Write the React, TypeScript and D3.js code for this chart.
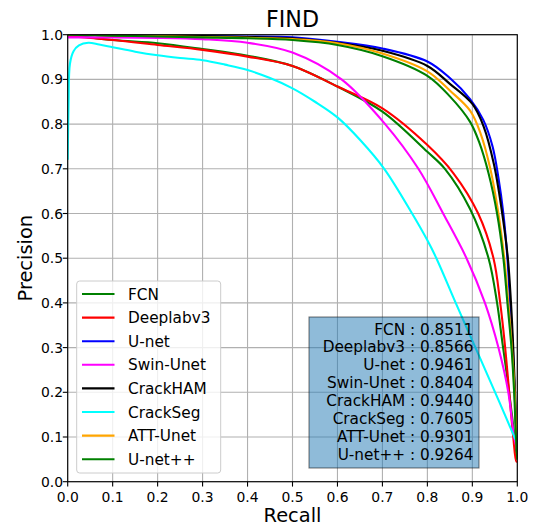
import React from "react";
import * as d3 from "d3";

const seriesNames = ["FCN", "Deeplabv3", "U-net", "Swin-Unet", "CrackHAM", "CrackSeg", "ATT-Unet", "U-net++"];
const seriesColors = ["#008000", "#ff0000", "#0000ff", "#ff00ff", "#000000", "#00ffff", "#ffa500", "#008000"];
const apScores = ["0.8511", "0.8566", "0.9461", "0.8404", "0.9440", "0.7605", "0.9301", "0.9264"];

const xTicks = [0, 0.1, 0.2, 0.3, 0.4, 0.5, 0.6, 0.7, 0.8, 0.9, 1.0];
const yTicks = [0, 0.1, 0.2, 0.3, 0.4, 0.5, 0.6, 0.7, 0.8, 0.9, 1.0];

type Pt = [number, number];

const fcn: Pt[] = [
  [0, 1.0], [0.1, 0.988], [0.2, 0.981], [0.3, 0.968], [0.4, 0.953], [0.5, 0.93],
  [0.6, 0.884], [0.7, 0.828], [0.8, 0.738], [0.839, 0.7], [0.895, 0.61], [0.936, 0.5],
  [0.955, 0.4], [0.967, 0.31], [0.978, 0.23], [0.988, 0.15], [0.995, 0.09], [1.0, 0.05],
];
const deeplab: Pt[] = [
  [0, 0.997], [0.1, 0.988], [0.2, 0.977], [0.3, 0.966], [0.4, 0.951], [0.5, 0.93],
  [0.6, 0.884], [0.7, 0.835], [0.8, 0.753], [0.858, 0.69], [0.913, 0.6],
  [0.947, 0.5], [0.962, 0.4], [0.972, 0.31], [0.982, 0.2], [0.991, 0.1], [0.998, 0.045], [1.0, 0.046],
];
const unet: Pt[] = [
  [0, 1.0], [0.1, 0.999], [0.2, 0.998], [0.3, 0.997], [0.4, 0.996], [0.5, 0.994], [0.6, 0.984],
  [0.7, 0.969], [0.8, 0.94], [0.85, 0.903], [0.895, 0.856], [0.924, 0.81], [0.945, 0.75],
  [0.958, 0.68], [0.969, 0.6], [0.978, 0.5], [0.984, 0.4], [0.99, 0.3], [0.994, 0.2], [0.998, 0.1], [1.0, 0.05],
];
const swin: Pt[] = [
  [0, 0.994], [0.1, 0.994], [0.2, 0.993], [0.3, 0.99], [0.4, 0.982], [0.5, 0.96],
  [0.609, 0.9], [0.706, 0.8], [0.78, 0.7], [0.835, 0.6], [0.887, 0.5], [0.928, 0.4],
  [0.958, 0.3], [0.98, 0.2], [0.993, 0.1], [1.0, 0.07],
];
const crackham: Pt[] = [
  [0, 1.0], [0.1, 0.999], [0.2, 0.998], [0.3, 0.997], [0.4, 0.995], [0.5, 0.992], [0.6, 0.982],
  [0.7, 0.964], [0.8, 0.93], [0.85, 0.89], [0.9, 0.845], [0.925, 0.795], [0.948, 0.71],
  [0.965, 0.61], [0.979, 0.5], [0.986, 0.4], [0.991, 0.3], [0.995, 0.2], [0.998, 0.1], [1.0, 0.05],
];
const crackseg: Pt[] = [
  [0, 0.72], [0.002, 0.85], [0.005, 0.935], [0.013, 0.963], [0.025, 0.976], [0.046, 0.982],
  [0.07, 0.978], [0.1, 0.972], [0.15, 0.962], [0.2, 0.954], [0.25, 0.948], [0.3, 0.943],
  [0.35, 0.933], [0.4, 0.921], [0.45, 0.903], [0.5, 0.88], [0.55, 0.85], [0.6, 0.815],
  [0.65, 0.765], [0.704, 0.7], [0.766, 0.6], [0.8, 0.54], [0.82, 0.5], [0.863, 0.4],
  [0.917, 0.277], [0.958, 0.183], [1.0, 0.085],
];
const attunet: Pt[] = [
  [0, 1.0], [0.1, 0.999], [0.2, 0.997], [0.3, 0.995], [0.4, 0.993], [0.5, 0.99], [0.6, 0.981],
  [0.7, 0.958], [0.8, 0.918], [0.85, 0.875], [0.895, 0.83], [0.918, 0.78], [0.94, 0.7],
  [0.958, 0.6], [0.971, 0.5], [0.98, 0.4], [0.988, 0.3], [0.994, 0.2], [0.998, 0.1], [1.0, 0.05],
];
const unetpp: Pt[] = [
  [0, 1.0], [0.1, 0.998], [0.2, 0.996], [0.3, 0.994], [0.4, 0.992], [0.5, 0.988], [0.6, 0.977],
  [0.7, 0.952], [0.8, 0.908], [0.85, 0.862], [0.895, 0.805], [0.915, 0.76], [0.936, 0.69],
  [0.955, 0.6], [0.969, 0.5], [0.978, 0.4], [0.987, 0.3], [0.993, 0.2], [0.997, 0.1], [1.0, 0.05],
];

const seriesData: Pt[][] = [fcn, deeplab, unet, swin, crackham, crackseg, attunet, unetpp];

const W = 535;
const H = 527;
const X0 = 67.7;
const X1 = 517.3;
const Y0 = 34.7;
const Y1 = 481.7;
const FONT = "DejaVu Sans, Verdana, sans-serif";

export default function App() {
  const x = d3.scaleLinear().domain([0, 1]).range([X0, X1]);
  const y = d3.scaleLinear().domain([0, 1]).range([Y1, Y0]);
  const line = d3
    .line<Pt>()
    .x((d) => x(d[0]))
    .y((d) => y(d[1]))
    .curve(d3.curveCatmullRom.alpha(0.5));

  const legX = 76.7, legY = 281, legW = 144, legH = 192;
  const boxX = 309, boxY = 317, boxW = 170, boxH = 151;

  return (
    <svg
      width={W}
      height={H}
      style={{ position: "absolute", left: 0, top: 0, background: "#fff" }}
      fontFamily={FONT}
    >
      <defs>
        <clipPath id="plotclip">
          <rect x={X0} y={Y0} width={X1 - X0} height={Y1 - Y0} />
        </clipPath>
      </defs>
      <rect x={0} y={0} width={W} height={H} fill="#fff" />
      {xTicks.map((t) => (
        <line key={"gx" + t} x1={x(t)} x2={x(t)} y1={Y0} y2={Y1} stroke="#b0b0b0" strokeWidth={1.1} />
      ))}
      {yTicks.map((t) => (
        <line key={"gy" + t} x1={X0} x2={X1} y1={y(t)} y2={y(t)} stroke="#b0b0b0" strokeWidth={1.1} />
      ))}
      <g clipPath="url(#plotclip)">
        {seriesData.map((d, i) => (
          <path
            key={seriesNames[i]}
            d={line(d) || ""}
            fill="none"
            stroke={seriesColors[i]}
            strokeWidth={2.1}
            strokeLinejoin="round"
            strokeLinecap="butt"
          />
        ))}
      </g>
      <rect x={X0} y={Y0} width={X1 - X0} height={Y1 - Y0} fill="none" stroke="#000" strokeWidth={1.1} />
      {xTicks.map((t) => (
        <g key={"tx" + t}>
          <line x1={x(t)} x2={x(t)} y1={Y1} y2={Y1 + 4.9} stroke="#000" strokeWidth={1.1} />
          <text x={x(t)} y={502} fontSize={13.9} textAnchor="middle" fill="#000">
            {t.toFixed(1)}
          </text>
        </g>
      ))}
      {yTicks.map((t) => (
        <g key={"ty" + t}>
          <line x1={X0 - 4.9} x2={X0} y1={y(t)} y2={y(t)} stroke="#000" strokeWidth={1.1} />
          <text x={63} y={y(t) + 5} fontSize={13.9} textAnchor="end" fill="#000">
            {t.toFixed(1)}
          </text>
        </g>
      ))}
      <text x={(X0 + X1) / 2} y={26.5} fontSize={22.2} textAnchor="middle" fill="#000">
        FIND
      </text>
      <text x={(X0 + X1) / 2} y={522} fontSize={19.4} textAnchor="middle" fill="#000">
        Recall
      </text>
      <text
        transform={`translate(31.5, ${(Y0 + Y1) / 2}) rotate(-90)`}
        fontSize={19.4}
        textAnchor="middle"
        fill="#000"
      >
        Precision
      </text>
      <rect
        x={legX}
        y={legY}
        width={legW}
        height={legH}
        rx={3}
        ry={3}
        fill="#fff"
        fillOpacity={0.8}
        stroke="#cccccc"
        strokeWidth={1}
      />
      {seriesNames.map((n, i) => {
        const cy = 294 + i * 23.6;
        return (
          <g key={"leg" + n}>
            <line x1={82} x2={114.5} y1={cy} y2={cy} stroke={seriesColors[i]} strokeWidth={2.1} />
            <text x={128} y={cy + 5.5} fontSize={15.3} fill="#000">
              {n}
            </text>
          </g>
        );
      })}
      <rect
        x={boxX}
        y={boxY}
        width={boxW}
        height={boxH}
        fill="#1f77b4"
        fillOpacity={0.5}
        stroke="#000"
        strokeOpacity={0.5}
        strokeWidth={1.1}
      />
      {seriesNames.map((n, i) => (
        <text key={"ap" + n} x={473.5} y={334.6 + i * 17.86} fontSize={15.3} textAnchor="end" fill="#000">
          {`${n} : ${apScores[i]}`}
        </text>
      ))}
    </svg>
  );
}
